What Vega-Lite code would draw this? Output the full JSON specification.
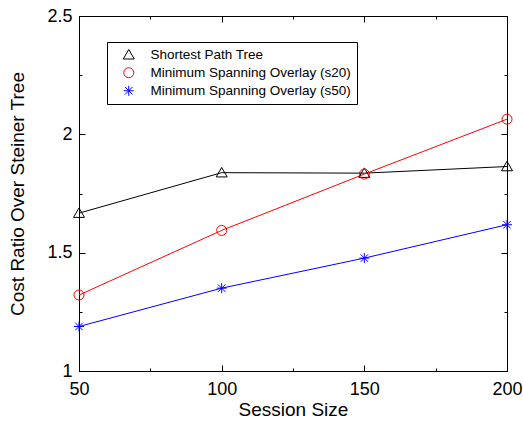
{
  "$schema": "https://vega.github.io/schema/vega-lite/v6.json",
  "width": 428,
  "height": 355,
  "autosize": "none",
  "padding": {"left": 79, "top": 16, "right": 16, "bottom": 59},
  "background": "white",
  "config": {
    "view": {"stroke": "black", "strokeWidth": 1},
    "font": "Liberation Sans"
  },
  "data": {
    "values": [
      {"size": 50, "ratio": 1.667, "series": "Shortest Path Tree"},
      {"size": 100, "ratio": 1.838, "series": "Shortest Path Tree"},
      {"size": 150, "ratio": 1.836, "series": "Shortest Path Tree"},
      {"size": 200, "ratio": 1.864, "series": "Shortest Path Tree"},
      {"size": 50, "ratio": 1.321, "series": "Minimum Spanning Overlay (s20)"},
      {"size": 100, "ratio": 1.594, "series": "Minimum Spanning Overlay (s20)"},
      {"size": 150, "ratio": 1.832, "series": "Minimum Spanning Overlay (s20)"},
      {"size": 200, "ratio": 2.064, "series": "Minimum Spanning Overlay (s20)"},
      {"size": 50, "ratio": 1.188, "series": "Minimum Spanning Overlay (s50)"},
      {"size": 100, "ratio": 1.35, "series": "Minimum Spanning Overlay (s50)"},
      {"size": 150, "ratio": 1.477, "series": "Minimum Spanning Overlay (s50)"},
      {"size": 200, "ratio": 1.618, "series": "Minimum Spanning Overlay (s50)"}
    ]
  },
  "layer": [
    {
      "mark": {"type": "line", "strokeWidth": 1},
      "encoding": {
        "x": {
          "field": "size", "type": "quantitative",
          "scale": {"domain": [50, 200], "nice": false, "zero": false},
          "axis": {
            "orient": "bottom", "title": "Session Size",
            "values": [50, 75, 100, 125, 150, 175, 200],
            "labelExpr": "datum.value % 50 === 0 ? '' + datum.value : ''",
            "labelFlush": false,
            "grid": false, "domainColor": "black", "tickColor": "black",
            "tickSize": -6, "labelPadding": 15,
            "labelFontSize": 18, "labelColor": "black", "labelFont": "Liberation Sans",
            "titleFontSize": 19, "titleFontWeight": "normal", "titleColor": "black", "titleFont": "Liberation Sans",
            "titlePadding": 2,
            "encoding": {"ticks": {"y2": {"value": {"expr": "datum.value % 50 === 0 ? -6 : -3"}}}}
          }
        },
        "y": {
          "field": "ratio", "type": "quantitative",
          "scale": {"domain": [1, 2.5], "nice": false, "zero": false},
          "axis": {
            "orient": "left", "title": "Cost Ratio Over Steiner Tree",
            "values": [1, 1.25, 1.5, 1.75, 2, 2.25, 2.5],
            "labelExpr": "(datum.value * 2) % 1 === 0 ? '' + datum.value : ''",
            "labelFlush": false,
            "grid": false, "domainColor": "black", "tickColor": "black",
            "tickSize": -6, "labelPadding": 13,
            "labelFontSize": 18, "labelColor": "black", "labelFont": "Liberation Sans",
            "titleFontSize": 19, "titleFontWeight": "normal", "titleColor": "black", "titleFont": "Liberation Sans",
            "titlePadding": 19,
            "encoding": {"ticks": {"x2": {"value": {"expr": "(datum.value * 2) % 1 === 0 ? 6 : 3"}}}}
          }
        },
        "color": {
          "field": "series", "type": "nominal",
          "scale": {
            "domain": ["Shortest Path Tree", "Minimum Spanning Overlay (s20)", "Minimum Spanning Overlay (s50)"],
            "range": ["#000000", "#ff0000", "#0000ff"]
          }
        }
      }
    },
    {
      "mark": {"type": "point", "filled": false, "size": 100, "strokeWidth": 1, "opacity": 1},
      "encoding": {
        "x": {
          "field": "size", "type": "quantitative",
          "axis": {
            "orient": "top", "title": null, "labels": false,
            "values": [50, 75, 100, 125, 150, 175, 200],
            "grid": false, "domainColor": "black", "tickColor": "black", "tickSize": -6,
            "encoding": {"ticks": {"y2": {"value": {"expr": "datum.value % 50 === 0 ? 6 : 3"}}}}
          }
        },
        "y": {
          "field": "ratio", "type": "quantitative",
          "axis": {
            "orient": "right", "title": null, "labels": false,
            "values": [1, 1.25, 1.5, 1.75, 2, 2.25, 2.5],
            "grid": false, "domainColor": "black", "tickColor": "black", "tickSize": -6,
            "encoding": {"ticks": {"x2": {"value": {"expr": "(datum.value * 2) % 1 === 0 ? -6 : -3"}}}}
          }
        },
        "color": {
          "field": "series", "type": "nominal",
          "legend": {
            "orient": "none", "legendX": 28, "legendY": 26,
            "title": null,
            "strokeColor": "black", "fillColor": "white",
            "padding": 6, "rowPadding": 3,
            "symbolSize": 100, "symbolOffset": 9, "labelOffset": 15,
            "symbolStrokeWidth": 1,
            "labelLimit": 0,
            "labelFontSize": 13.5, "labelColor": "black", "labelFont": "Liberation Sans",
            "encoding": {
              "symbols": {
                "shape": {"value": {"expr": "datum.value === 'Shortest Path Tree' ? 'M-2.54,-1.05L-1.44,0.85L-3.64,0.85ZM2.54,-1.05L3.64,0.85L1.44,0.85ZM-2,0L2,0' : datum.value === 'Minimum Spanning Overlay (s20)' ? 'M-1.54,0A1,1,0,1,1,-3.54,0A1,1,0,1,1,-1.54,0ZM3.54,0A1,1,0,1,1,1.54,0A1,1,0,1,1,3.54,0ZM-1.54,0L1.54,0' : 'M-3.54,0L3.54,0M-2.54,-1L-2.54,1M-3.29,-0.75L-1.79,0.75M-3.29,0.75L-1.79,-0.75M2.54,-1L2.54,1M1.79,-0.75L3.29,0.75M1.79,0.75L3.29,-0.75'"}}
              }
            }
          }
        },
        "shape": {
          "field": "series", "type": "nominal",
          "scale": {
            "domain": ["Shortest Path Tree", "Minimum Spanning Overlay (s20)", "Minimum Spanning Overlay (s50)"],
            "range": ["M0,-1.05L1.1,0.85L-1.1,0.85Z", "circle", "M-1,0L1,0M0,-1L0,1M-0.75,-0.75L0.75,0.75M-0.75,0.75L0.75,-0.75"]
          }
        }
      }
    }
  ],
  "resolve": {"axis": {"x": "independent", "y": "independent"}}
}
